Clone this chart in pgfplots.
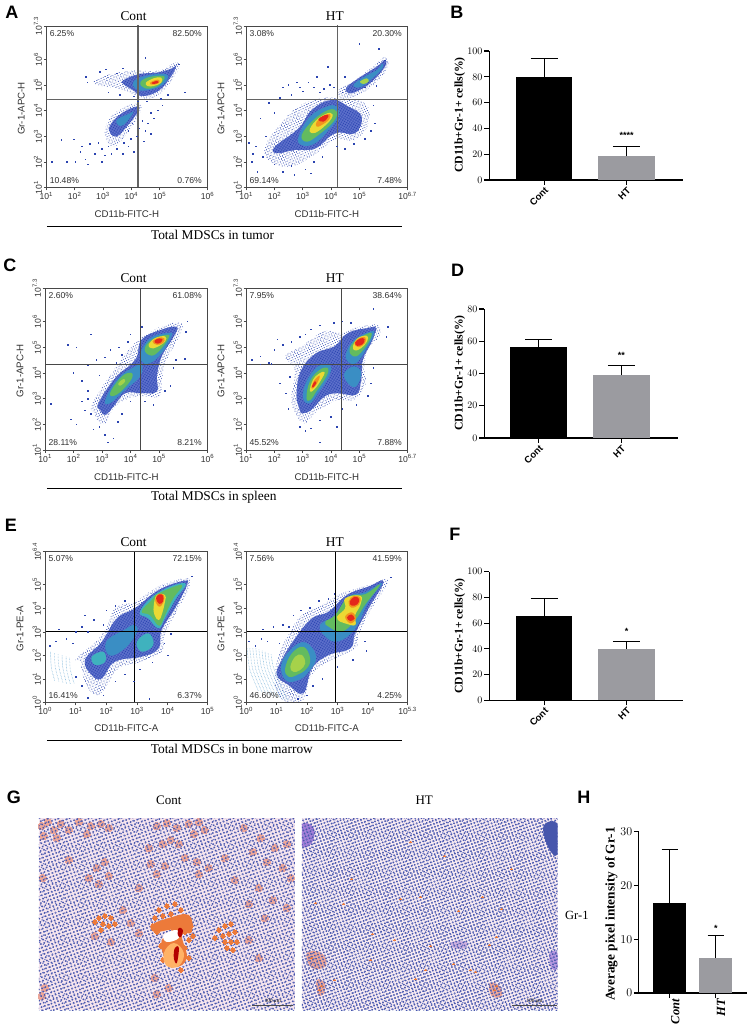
\documentclass[border=0pt]{standalone}
\usepackage{pgfplots}
\pgfplotsset{compat=1.18}
\usepackage{fontspec}
\setmainfont{Liberation Serif}
\newfontfamily\arial{Liberation Sans}
\usetikzlibrary{patterns.meta}
\definecolor{spk}{HTML}{2B44B0}
\definecolor{dk}{HTML}{6275CE}
\definecolor{md}{HTML}{3A8EC4}
\definecolor{cy}{HTML}{3FB2BE}
\definecolor{gr}{HTML}{63BB5F}
\definecolor{li}{HTML}{A6D24A}
\definecolor{ye}{HTML}{ECD933}
\definecolor{or}{HTML}{F2931E}
\definecolor{re}{HTML}{E4281B}
\definecolor{frm}{HTML}{484848}
\definecolor{txg}{HTML}{303030}
\definecolor{bargray}{HTML}{9B9BA0}
\definecolor{nuc}{HTML}{4756AC}
\definecolor{nucb}{HTML}{6C78C2}
\definecolor{pk}{HTML}{F0A898}
\definecolor{orr}{HTML}{EC7A3A}
\newcommand{\fs}[1]{\fontsize{#1}{#1}\selectfont}
\def\dkname{dk}
\newcommand{\blob}[2]{\def\tmpn{#1}\ifx\tmpn\dkname\addplot[fill=dk,draw=none,smooth cycle,tension=0.7,forget plot] coordinates {#2};\addplot[pattern={Dots[radius=0.55pt,distance=1.5pt,angle=20]},pattern color=spk,draw=none,smooth cycle,tension=0.7,forget plot] coordinates {#2};\else\addplot[fill=#1,draw=none,smooth cycle,tension=0.7,forget plot] coordinates {#2};\fi}
\newcommand{\halo}[1]{\addplot[pattern={Dots[radius=0.45pt,distance=2.4pt,angle=25]},pattern color=spk,draw=none,smooth cycle,tension=0.7,forget plot] coordinates {#1};\addplot[pattern={Dots[radius=0.4pt,distance=2.9pt,angle=70]},pattern color=spk,draw=none,smooth cycle,tension=0.7,forget plot] coordinates {#1};}
\newcommand{\spk}[1]{\addplot[only marks,color=spk,fill=spk,mark=square*,mark size=0.3pt,line width=0pt,forget plot] coordinates {#1};}
\newcommand{\arc}[1]{\addplot[draw=md!70!white,line width=0.5pt,dash pattern=on 0.6pt off 0.9pt,smooth,forget plot] coordinates {#1};}
\newcommand{\pct}[4]{%
\node[anchor=west,font=\arial\fs{8.6},text=txg,inner sep=0] at (rel axis cs:0.02,0.955){#1};
\node[anchor=east,font=\arial\fs{8.6},text=txg,inner sep=0] at (rel axis cs:0.965,0.955){#2};
\node[anchor=west,font=\arial\fs{8.6},text=txg,inner sep=0] at (rel axis cs:0.02,0.047){#3};
\node[anchor=east,font=\arial\fs{8.6},text=txg,inner sep=0] at (rel axis cs:0.965,0.047){#4};}
\newcommand{\s}[1]{\textsuperscript{#1}}
\pgfplotsset{
 flow/.style={scale only axis,axis on top,clip=true,
  axis line style={draw=frm,line width=0.9pt},
  tick style={draw=frm,line width=0.7pt},tick align=outside,major tick length=2.6pt,
  xtick pos=bottom,ytick pos=left,
  tick label style={font=\arial\fs{8.6},text=txg},
  yticklabel style={rotate=90,anchor=south,inner sep=1.5pt},
  xticklabel style={inner sep=1.5pt},
  xlabel style={at={(axis description cs:0.5,-0.165)},anchor=center,font=\arial\fs{9.7},text=txg},
  ylabel style={at={(axis description cs:-0.155,0.49)},anchor=center,font=\arial\fs{9.7},text=txg},
 },
 flowH/.style={flow,xmin=1,xmax=6.7,ymin=1,ymax=7.3,xtick={1,2,3,4,5,6.7},ytick={1,2,3,4,5,6,7.3},
  yticklabels={10\s{1},10\s{2},10\s{3},10\s{4},10\s{5},10\s{6},10\s{7.3}},
  xlabel={CD11b-FITC-H},ylabel={Gr-1-APC-H}},
 flowA/.style={flow,xmin=0,xmax=5.3,ymin=0,ymax=6.4,xtick={0,1,2,3,4,5.3},ytick={0,1,2,3,4,5,6.4},
  yticklabels={10\s{0},10\s{1},10\s{2},10\s{3},10\s{4},10\s{5},10\s{6.4}},
  xlabel={CD11b-FITC-A},ylabel={Gr-1-PE-A}},
 barp/.style={scale only axis,ymin=0,axis x line=bottom,axis y line=left,
  axis line style={-,line width=1.1pt,draw=black},
  tick style={draw=black,line width=1.1pt},tick align=outside,major tick length=5pt,
  xtick={0,1},xticklabels={Cont,HT},
  yticklabel style={font=\arial\bfseries\fs{10},inner sep=1.5pt},
  xticklabel style={font=\arial\bfseries\fs{9.5},rotate=45,anchor=north east,inner sep=1pt},
 },
 micro/.style={scale only axis,hide axis,xmin=0,xmax=256,ymin=0,ymax=192,y dir=reverse,clip=true,clip mode=individual},
}
\newcommand{\bars}[5]{%
\addplot[ybar,bar width=#1,bar shift=0pt,fill=black,draw=none,forget plot,
 error bars/.cd,y dir=plus,y explicit,error bar style={line width=1.1pt,black},error mark options={rotate=90,mark size=#2,line width=1.1pt,black}] coordinates {#3};
\addplot[ybar,bar width=#1,bar shift=0pt,fill=bargray,draw=none,forget plot,
 error bars/.cd,y dir=plus,y explicit,error bar style={line width=1.1pt,black},error mark options={rotate=90,mark size=#2,line width=1.1pt,black}] coordinates {#4};
\node[font=\arial\bfseries\fs{9}] at #5;}
\newcommand{\tx}[4]{\node[#3] at (#1pt,{1026pt-#2pt}){#4};}
\newcommand{\hl}[3]{\draw[black,line width=0.9pt] (#1pt,{1026pt-#3pt})--(#2pt,{1026pt-#3pt});}
\newcommand{\gcross}[5]{%
\addplot[draw=#1,line width=#2,forget plot] coordinates {(#3,-100)(#3,100)};
\addplot[draw=#1,line width=#2,forget plot] coordinates {(-100,#4)(100,#4)};}
\newcommand{\nuclei}[2]{%
\addplot[pattern={Dots[radius=1.05pt,distance=#1pt,angle=20]},pattern color=nuc,draw=none,forget plot] coordinates {(0,0)(256,0)(256,192)(0,192)} --cycle;
\addplot[pattern={Dots[radius=0.85pt,distance=#2pt,angle=62]},pattern color=nucb,draw=none,forget plot] coordinates {(0,0)(256,0)(256,192)(0,192)} --cycle;}
\begin{document}
\begin{tikzpicture}
\path (0pt,0pt) rectangle (747pt,1026pt);
%%%%%%%%%%%% A Cont
\begin{axis}[flowH,at={(44.5pt,838.3pt)},anchor=south west,width=161.2pt,height=161.7pt,
 xticklabels={10\s{1},10\s{2},10\s{3},10\s{4},10\s{5},10\s{6}}]
\halo{(2.73,5.19)(3.32,5.43)(4.14,5.56)(4.96,5.56)(5.55,5.87)(5.69,5.71)(5.44,5.19)(4.96,4.61)(4.38,4.48)(3.91,4.74)(3.32,4.91)(2.79,5.0)}
\halo{(3.14,3.51)(3.49,3.96)(4.2,4.29)(4.32,3.9)(3.67,2.86)(3.32,2.6)(3.08,2.99)}
\blob{dk}{(3.73,5.19)(4.26,5.42)(4.96,5.49)(5.44,5.65)(5.59,5.74)(5.39,5.3)(4.96,4.77)(4.38,4.57)(4.08,4.79)(3.73,5.03)}
\blob{md}{(4.08,5.13)(4.49,5.35)(5.2,5.43)(5.26,5.19)(4.96,4.91)(4.44,4.78)(4.14,4.87)}
\blob{gr}{(4.32,5.09)(4.61,5.3)(5.14,5.35)(5.11,5.13)(4.85,4.91)(4.49,4.87)}
\blob{ye}{(4.52,5.09)(4.79,5.26)(5.06,5.29)(5.06,5.09)(4.79,4.96)(4.58,4.96)}
\blob{or}{(4.67,5.09)(4.85,5.19)(4.99,5.19)(4.96,5.06)(4.73,5.01)}
\blob{re}{(4.73,5.09)(4.91,5.16)(4.96,5.09)(4.79,5.04)}
\blob{dk}{(3.26,3.44)(3.67,3.9)(4.2,4.16)(4.24,3.96)(3.79,3.31)(3.49,2.99)(3.26,3.12)}
\blob{md}{(3.49,3.64)(3.96,3.9)(4.08,3.96)(3.85,3.57)(3.61,3.4)}
\spk{(1.2,2.0)(1.53,2.86)(1.73,2.0)(1.97,2.88)(2.03,2.0)(2.2,2.4)(2.38,2.1)(2.47,1.9)(2.55,2.7)(2.73,2.3)(2.97,2.0)(2.26,2.6)(2.85,2.75)(2.96,2.5)(3.08,2.25)(3.2,2.6)(3.3,2.3)(3.5,2.5)(3.7,2.3)(3.9,2.6)(4.0,2.9)(4.1,2.4)(4.2,3.0)(4.3,3.3)(4.4,3.6)(4.5,3.2)(4.6,3.5)(4.7,3.9)(4.8,3.7)(4.95,4.0)(5.1,4.2)(4.45,2.8)(4.7,3.1)(5.9,4.7)(2.4,5.3)(2.45,5.1)(2.9,5.5)(3.1,5.6)(3.5,5.45)(3.7,5.65)(4.5,6.05)(5.7,5.8)(3.2,4.7)(3.6,4.6)(4.1,4.55)(3.9,3.2)(4.05,3.5)(3.75,2.75)(4.25,4.35)(4.55,4.35)(5.3,4.6)(5.05,4.45)}
\gcross{frm!85!white}{1.3pt}{4.24}{4.44}{}
\pct{6.25\%}{82.50\%}{10.48\%}{0.76\%}
\end{axis}
%%%%%%%%%%%% A HT
\begin{axis}[flowH,at={(244.3pt,838.3pt)},anchor=south west,width=161.4pt,height=161.7pt,
 xticklabels={10\s{1},10\s{2},10\s{3},10\s{4},10\s{5},10\s{6.7}}]
\halo{(1.67,2.6)(2.14,3.38)(2.85,4.16)(3.67,4.48)(4.2,4.48)(5.2,4.29)(5.32,3.51)(4.85,2.86)(4.14,2.86)(3.32,2.21)(2.49,1.82)(1.79,2.08)}
\halo{(4.26,4.81)(4.85,5.19)(5.55,5.78)(5.9,6.08)(6.02,5.71)(5.55,5.06)(4.96,4.61)(4.38,4.48)}
\blob{dk}{(2.02,2.6)(2.85,3.31)(3.32,4.03)(4.02,4.42)(4.61,4.16)(5.08,3.77)(4.85,3.12)(4.14,3.12)(3.44,2.53)(2.73,2.47)(2.08,2.34)}
\blob{md}{(2.85,2.99)(3.26,3.77)(3.85,4.16)(4.2,4.16)(4.26,3.77)(4.02,3.38)(3.44,2.73)(2.96,2.66)}
\blob{gr}{(2.96,3.05)(3.38,3.64)(3.91,4.03)(4.2,3.96)(4.08,3.57)(3.55,3.05)(3.14,2.79)}
\blob{ye}{(3.26,3.31)(3.55,3.7)(3.96,3.92)(4.02,3.7)(3.61,3.25)(3.32,3.12)}
\blob{or}{(3.49,3.57)(3.73,3.79)(3.96,3.87)(3.93,3.66)(3.67,3.44)(3.49,3.38)}
\blob{re}{(3.55,3.66)(3.79,3.83)(3.91,3.79)(3.73,3.57)}
\blob{dk}{(4.55,4.91)(5.02,5.3)(5.61,5.71)(5.9,5.97)(5.9,5.71)(5.44,5.13)(4.96,4.78)(4.61,4.68)}
\blob{md}{(4.79,5.0)(5.14,5.3)(5.61,5.58)(5.81,5.84)(5.79,5.62)(5.38,5.19)(5.02,4.91)}
\blob{li}{(5.02,5.13)(5.26,5.26)(5.32,5.13)(5.14,5.04)}
\spk{(1.1,2.75)(1.2,2.0)(1.35,2.6)(1.5,3.7)(1.7,3.0)(1.8,4.3)(2.0,3.9)(2.2,4.5)(2.3,4.9)(2.5,5.0)(2.6,4.6)(2.8,5.1)(2.9,4.9)(3.0,4.75)(3.2,5.1)(3.4,4.9)(3.5,5.3)(3.6,4.7)(3.75,4.85)(3.95,5.0)(4.1,4.9)(3.9,5.7)(5.0,6.6)(5.7,6.4)(5.9,5.95)(4.4,4.7)(4.5,5.3)(5.2,4.9)(5.6,4.95)(5.5,4.2)(5.55,3.5)(5.4,3.2)(5.2,2.9)(4.8,2.7)(4.5,2.5)(4.2,2.6)(3.7,2.2)(3.4,2.0)(3.1,1.7)(2.7,1.5)(2.3,1.6)(2.0,1.9)(1.6,2.2)(2.6,1.85)(3.3,1.55)(1.4,1.6)(1.25,2.3)}
\gcross{frm!85!white}{1.3pt}{4.22}{4.44}{}
\pct{3.08\%}{20.30\%}{69.14\%}{7.48\%}
\end{axis}
%%%%%%%%%%%% C Cont
\begin{axis}[flowH,at={(43.3pt,575.7pt)},anchor=south west,width=162.4pt,height=162pt,
 xticklabels={10\s{1},10\s{2},10\s{3},10\s{4},10\s{5},10\s{6}}]
\halo{(2.75,2.44)(2.64,2.77)(3.34,4.0)(4.16,5.17)(5.09,5.82)(5.8,5.92)(5.68,5.36)(5.21,4.39)(5.09,3.61)(4.98,3.09)(4.16,3.09)(3.46,2.7)(3.11,2.05)(2.81,2.18)}
\blob{dk}{(2.93,2.57)(2.87,2.83)(3.46,3.81)(4.16,4.52)(4.39,5.3)(5.09,5.69)(5.62,5.79)(5.5,5.4)(5.09,4.65)(4.92,3.87)(4.92,3.29)(4.39,3.22)(3.81,3.22)(3.4,2.7)(3.11,2.38)}
\blob{md}{(3.11,2.96)(3.57,3.81)(4.16,4.26)(4.39,4.32)(4.33,3.87)(3.81,3.35)(3.28,2.83)}
\blob{gr}{(3.28,3.22)(3.69,3.87)(4.04,4.0)(3.98,3.68)(3.51,3.16)}
\blob{li}{(3.57,3.61)(3.75,3.77)(3.81,3.68)(3.63,3.51)}
\blob{md}{(4.39,4.91)(4.74,5.4)(5.33,5.56)(5.44,5.45)(5.09,4.78)(4.68,4.39)(4.39,4.45)}
\blob{gr}{(4.49,4.91)(4.74,5.3)(5.27,5.49)(5.33,5.36)(5.04,4.91)(4.74,4.68)}
\blob{ye}{(4.63,5.1)(4.86,5.36)(5.21,5.43)(5.21,5.23)(4.92,5.01)(4.72,4.97)}
\blob{or}{(4.77,5.23)(4.98,5.38)(5.18,5.35)(5.14,5.17)(4.92,5.1)}
\blob{re}{(4.84,5.26)(5.0,5.35)(5.12,5.3)(5.03,5.17)(4.89,5.16)}
\spk{(1.2,2.8)(1.9,2.2)(2.1,2.0)(2.3,2.9)(2.4,2.55)(2.5,3.0)(2.6,2.4)(2.9,1.9)(3.1,1.6)(3.2,1.3)(3.4,1.45)(2.7,1.8)(3.55,2.1)(3.7,2.4)(2.0,4.0)(2.3,3.7)(2.5,4.3)(2.8,4.5)(2.9,3.9)(3.1,4.6)(3.3,4.9)(3.5,4.4)(3.6,5.0)(3.7,4.7)(3.9,5.2)(1.8,5.1)(2.1,5.0)(2.6,5.5)(4.0,5.5)(4.4,5.8)(5.2,3.3)(5.4,3.5)(5.5,4.2)(5.9,4.55)(5.6,4.5)(6.0,6.0)(5.95,5.6)(4.5,2.9)(4.8,2.75)(4.0,2.9)(2.5,3.3)}
\gcross{frm}{0.9pt}{4.36}{4.34}{}
\pct{2.60\%}{61.08\%}{28.11\%}{8.21\%}
\end{axis}
%%%%%%%%%%%% C HT
\begin{axis}[flowH,at={(244.3pt,575.7pt)},anchor=south west,width=161.4pt,height=162pt,
 xticklabels={10\s{1},10\s{2},10\s{3},10\s{4},10\s{5},10\s{6.7}}]
\halo{(2.72,2.44)(2.6,3.09)(2.72,4.13)(2.37,4.65)(2.95,5.04)(3.77,5.62)(4.36,5.56)(4.82,5.75)(5.64,5.88)(5.7,5.43)(5.29,4.91)(5.18,4.13)(5.23,3.61)(4.82,2.96)(4.24,2.96)(3.77,2.7)(3.42,2.44)(3.07,2.05)}
\blob{dk}{(2.89,2.57)(2.78,3.22)(2.95,4.13)(3.48,4.78)(4.12,5.04)(4.59,5.56)(5.29,5.75)(5.58,5.75)(5.41,5.17)(5.12,4.52)(5.06,3.74)(4.88,3.16)(4.24,3.22)(3.77,3.09)(3.3,2.57)(3.01,2.44)}
\blob{md}{(3.01,3.03)(3.13,3.68)(3.54,4.26)(3.95,4.32)(3.95,3.94)(3.54,3.22)(3.25,2.83)}
\blob{md}{(4.47,4.0)(4.82,4.26)(5.06,4.0)(4.88,3.48)(4.59,3.61)}
\blob{gr}{(3.13,3.03)(3.25,3.68)(3.6,4.13)(3.89,4.19)(3.83,3.87)(3.48,3.29)(3.28,2.96)}
\blob{ye}{(3.25,3.29)(3.36,3.74)(3.6,4.0)(3.77,4.03)(3.65,3.74)(3.42,3.38)}
\blob{or}{(3.3,3.42)(3.42,3.74)(3.6,3.9)(3.54,3.68)(3.4,3.45)}
\blob{re}{(3.33,3.5)(3.42,3.68)(3.48,3.61)(3.37,3.45)}
\blob{md}{(4.53,4.78)(4.82,5.3)(5.41,5.62)(5.5,5.49)(5.23,4.91)(4.88,4.39)(4.59,4.45)}
\blob{gr}{(4.65,4.84)(4.82,5.23)(5.35,5.56)(5.41,5.4)(5.18,4.97)(4.88,4.65)}
\blob{ye}{(4.77,5.03)(4.94,5.36)(5.27,5.45)(5.27,5.23)(5.06,4.97)(4.85,4.88)}
\blob{or}{(4.82,5.17)(5.0,5.36)(5.2,5.4)(5.2,5.17)(4.96,5.01)}
\blob{re}{(4.85,5.19)(5.03,5.35)(5.18,5.32)(5.12,5.13)(4.92,5.06)}
\spk{(1.2,4.5)(1.5,4.65)(1.8,4.4)(2.0,4.9)(2.1,5.3)(2.3,5.1)(2.6,5.2)(2.9,5.4)(3.1,5.5)(3.3,5.7)(3.6,5.85)(4.1,5.95)(4.4,6.0)(4.7,5.95)(5.5,6.5)(5.95,5.4)(6.0,5.8)(5.5,4.2)(5.4,3.6)(5.3,3.1)(4.9,2.75)(4.4,2.6)(4.0,2.3)(3.6,2.15)(3.3,1.85)(3.1,1.75)(2.9,1.9)(2.5,2.6)(2.4,3.2)(2.2,3.6)(2.55,3.85)(3.6,1.3)(4.2,1.9)(1.9,4.35)(1.5,4.34)}
\gcross{frm}{0.9pt}{4.35}{4.34}{}
\pct{7.95\%}{38.64\%}{45.52\%}{7.88\%}
\end{axis}
%%%%%%%%%%%% E Cont
\begin{axis}[flowA,at={(43.3pt,323.3pt)},anchor=south west,width=162.4pt,height=151pt,
 xticklabels={10\s{0},10\s{1},10\s{2},10\s{3},10\s{4},10\s{5}}]
\halo{(1.14,1.74)(1.03,1.88)(1.85,2.87)(2.28,4.0)(2.93,4.28)(3.7,4.92)(4.57,5.27)(4.73,4.99)(4.35,4.0)(3.91,2.87)(3.8,2.16)(3.15,1.74)(2.39,1.45)(1.96,0.61)(1.63,0.32)(1.3,0.89)}
\blob{dk}{(1.3,1.81)(1.85,2.58)(2.34,3.57)(2.93,4.0)(3.7,4.77)(4.52,5.16)(4.63,4.99)(4.24,4.0)(3.8,3.08)(3.7,2.3)(3.15,1.95)(2.28,1.74)(1.85,1.03)(1.52,1.17)}
\blob{cy}{(3.09,3.86)(3.7,4.68)(4.57,5.06)(4.24,4.35)(3.91,3.57)(3.7,3.15)(3.37,3.57)}
\blob{gr}{(3.15,3.86)(3.48,4.35)(3.7,4.63)(4.46,4.99)(4.18,4.42)(3.91,3.71)(3.72,3.26)(3.42,3.71)}
\blob{ye}{(3.54,4.07)(3.64,4.56)(3.91,4.56)(3.91,4.28)(3.8,3.71)(3.7,3.5)(3.57,3.71)}
\blob{or}{(3.59,4.35)(3.7,4.6)(3.87,4.56)(3.87,4.28)(3.72,4.07)}
\blob{re}{(3.62,4.42)(3.72,4.59)(3.85,4.53)(3.84,4.28)(3.72,4.19)}
\blob{md}{(2.0,2.6)(2.6,3.1)(2.9,3.3)(3.0,3.0)(2.6,2.3)(2.1,2.0)}
\blob{cy}{(2.99,2.58)(3.37,2.94)(3.53,2.44)(3.15,2.16)}
\blob{cy}{(1.52,1.95)(1.9,2.16)(1.96,1.74)(1.63,1.6)}
\arc{(0.18,2.15)(0.2,1.5)(0.32,0.9)}
\arc{(0.3,2.1)(0.33,1.5)(0.45,0.9)}
\arc{(0.42,2.05)(0.45,1.5)(0.58,0.85)}
\arc{(0.55,2.0)(0.58,1.45)(0.7,0.8)}
\arc{(0.68,1.95)(0.7,1.4)(0.82,0.8)}
\arc{(0.8,1.9)(0.82,1.4)(0.95,0.8)}
\spk{(0.15,2.4)(0.35,2.6)(0.45,3.1)(0.7,2.7)(0.9,2.5)(1.0,3.0)(1.2,3.2)(1.4,3.0)(1.3,3.7)(1.6,3.5)(1.9,3.3)(2.0,3.9)(2.3,4.1)(2.6,4.3)(4.8,5.35)(3.9,2.5)(4.1,2.9)(4.0,2.0)(3.5,1.7)(3.1,1.4)(2.6,1.2)(2.3,0.9)(1.9,0.3)(1.4,0.2)(3.4,0.15)(2.9,0.9)(1.2,0.7)(1.0,1.1)}
\gcross{black}{0.9pt}{2.93}{3.02}{}
\pct{5.07\%}{72.15\%}{16.41\%}{6.37\%}
\end{axis}
%%%%%%%%%%%% E HT
\begin{axis}[flowA,at={(244.3pt,323.3pt)},anchor=south west,width=161.4pt,height=151pt,
 xticklabels={10\s{0},10\s{1},10\s{2},10\s{3},10\s{4},10\s{5.3}}]
\halo{(1.06,2.02)(1.39,2.87)(1.83,3.71)(2.49,4.14)(3.14,4.63)(4.02,4.99)(4.57,5.24)(4.62,4.99)(4.13,4.0)(3.69,2.87)(3.58,2.3)(2.71,1.74)(2.16,1.17)(1.83,0.04)(1.28,0.04)(0.95,0.75)}
\blob{dk}{(1.17,1.81)(1.61,2.73)(2.16,3.57)(2.71,3.86)(3.31,4.56)(4.02,4.92)(4.51,5.13)(4.02,4.0)(3.58,2.94)(3.42,2.3)(2.71,2.02)(2.16,1.45)(1.88,0.4)(1.39,0.75)(1.01,1.17)}
\blob{md}{(2.43,3.3)(2.92,3.71)(3.36,4.49)(3.91,4.68)(4.46,5.06)(4.02,4.28)(3.58,3.15)(3.03,2.6)(2.6,2.8)}
\blob{gr}{(2.6,3.43)(2.92,3.71)(3.36,4.49)(3.91,4.6)(4.4,5.01)(3.91,4.16)(3.58,3.5)(3.14,3.01)(2.71,3.22)}
\blob{ye}{(2.98,3.64)(3.25,4.0)(3.25,4.42)(3.75,4.53)(3.75,4.14)(3.58,3.71)(3.58,3.29)(3.25,3.36)(3.09,3.43)}
\blob{or}{(3.36,4.28)(3.53,4.53)(3.75,4.45)(3.69,4.14)(3.45,4.03)}
\blob{re}{(3.4,4.28)(3.56,4.49)(3.71,4.39)(3.65,4.17)(3.47,4.11)}
\blob{or}{(3.25,3.64)(3.47,3.83)(3.6,3.57)(3.42,3.36)}
\blob{re}{(3.31,3.61)(3.45,3.74)(3.56,3.57)(3.42,3.46)}
\blob{md}{(1.15,1.6)(1.5,2.3)(1.95,2.55)(2.3,1.95)(2.05,1.3)(1.7,0.95)(1.3,0.95)}
\blob{gr}{(1.28,1.45)(1.5,2.09)(1.88,2.37)(2.1,1.88)(1.99,1.45)(1.66,1.17)(1.39,1.1)}
\blob{li}{(1.45,1.52)(1.61,1.95)(1.83,2.02)(1.94,1.67)(1.77,1.38)(1.55,1.31)}
\arc{(0.03,2.3)(0.12,1.4)(0.4,0.5)}
\arc{(0.12,2.3)(0.22,1.4)(0.52,0.45)}
\arc{(0.22,2.3)(0.32,1.4)(0.64,0.4)}
\arc{(0.32,2.3)(0.42,1.4)(0.76,0.35)}
\arc{(0.42,2.25)(0.52,1.4)(0.88,0.3)}
\arc{(0.52,2.2)(0.62,1.4)(1.0,0.25)}
\arc{(0.62,2.15)(0.72,1.4)(1.12,0.2)}
\arc{(0.72,2.1)(0.82,1.4)(1.24,0.15)}
\arc{(0.82,2.05)(0.92,1.4)(1.36,0.1)}
\spk{(0.1,2.6)(0.3,2.4)(0.5,2.7)(0.55,3.1)(0.7,2.6)(0.9,3.2)(1.1,2.5)(1.2,3.3)(1.4,3.2)(1.55,3.7)(1.8,3.9)(2.1,4.0)(2.4,4.3)(2.7,4.4)(2.9,4.6)(4.75,5.3)(3.9,2.6)(3.95,2.2)(3.5,1.8)(3.0,1.5)(2.5,1.0)(2.2,0.7)(2.0,0.3)(1.7,0.15)}
\gcross{black}{0.9pt}{2.92}{3.02}{}
\pct{7.56\%}{41.59\%}{46.60\%}{4.25\%}
\end{axis}
%%%%%%%%%%%% B
\begin{axis}[barp,at={(487.3pt,846pt)},anchor=south west,width=193.7pt,height=129pt,ymax=100,ytick={0,20,40,60,80,100},xmin=-0.667,xmax=1.683]
\bars{56.7pt}{13.6pt}{(0,80) +- (0,14)}{(1,18.5) +- (0,7.5)}{(axis cs:1,34.5){****}}
\end{axis}
%%%%%%%%%%%% D
\begin{axis}[barp,at={(482.3pt,588pt)},anchor=south west,width=193.7pt,height=129pt,ymax=80,ytick={0,20,40,60,80},xmin=-0.662,xmax=1.682]
\bars{56.7pt}{13.6pt}{(0,56.5) +- (0,4.8)}{(1,39) +- (0,6)}{(axis cs:1,51.5){**}}
\end{axis}
%%%%%%%%%%%% F
\begin{axis}[barp,at={(487.3pt,325.7pt)},anchor=south west,width=193.7pt,height=128.6pt,ymax=100,ytick={0,20,40,60,80,100},xmin=-0.667,xmax=1.683]
\bars{56.7pt}{13.6pt}{(0,65.3) +- (0,13.7)}{(1,40) +- (0,5.5)}{(axis cs:1,53.5){*}}
\end{axis}
%%%%%%%%%%%% H
\begin{axis}[barp,at={(637pt,33pt)},anchor=south west,width=108pt,height=161.5pt,ymax=30,ytick={0,10,20,30},xmin=-0.674,xmax=1.674,
 yticklabel style={font=\arial\bfseries\fs{12},inner sep=1.5pt},
 xticklabel style={font=\bfseries\itshape\fs{12.5},rotate=45,anchor=north east,inner sep=1pt}]
\bars{33pt}{8.3pt}{(0,16.7) +- (0,10)}{(1,6.5) +- (0,4.1)}{(axis cs:1,12){*}}
\end{axis}
%%%%%%%%%%%% G left
\begin{axis}[micro,at={(37pt,16pt)},anchor=south west,width=256pt,height=192pt]
\addplot[fill=blue!35!red!10!white,draw=none,forget plot] coordinates {(0,0)(256,0)(256,192)(0,192)} --cycle;
\addplot[only marks,color=pk,fill=pk,mark=*,mark size=3.8pt,line width=0pt,forget plot] coordinates {(3,8)(9,4)(15,12)(22,6)(5,18)(18,20)(30,12)(40,4)(52,8)(62,6)(70,10)(48,16)(118,8)(128,5)(138,10)(150,6)(160,4)(166,12)(155,16)(132,22)(124,26)(140,26)(110,30)(112,46)(118,56)(126,48)(146,40)(158,44)(170,50)(160,56)(205,10)(222,20)(236,30)(248,26)(228,44)(244,50)(214,34)(252,60)(58,50)(66,44)(70,58)(50,60)(60,66)(186,40)(196,62)(6,170)(4,60)(30,42)(100,70)(220,70)(234,82)(210,86)(248,90)(226,100)(92,105)(100,115)(84,92)(56,118)(72,124)(210,122)(220,140)(3,178)(116,160)(130,170)(118,176)};
\nuclei{3.5}{4.2}
\addplot[only marks,color=orr,fill=orr,mark=*,mark size=2.2pt,line width=0pt,forget plot] coordinates {(60,100)(66,98)(72,100)(64,106)(70,108)(62,112)(76,106)(56,104)(120,92)(128,88)(136,86)(142,92)(116,100)(124,98)(132,96)(148,100)(152,108)(114,108)(118,114)(146,114)(150,122)(154,118)(180,112)(186,108)(192,106)(184,118)(190,116)(196,114)(186,124)(192,124)(198,124)(188,130)(194,132)(176,120)(122,128)(128,132)(146,130)(150,140)(124,142)(130,146)(142,152)};
\blob{orr}{(113,107)(130,100)(150,97)(153,114)(143,117)(148,140)(136,149)(125,137)(123,122)(133,112)(116,114)}
\blob{white}{(125,117)(138,112)(140,120)(128,124)}
\blob{orange!60!white}{(125,135)(135,125)(145,135)(140,148)(128,148)}
\blob{red!70!black}{(136,130)(140,130)(138,145)(135,140)}
\blob{red!70!black}{(140,110)(144,112)(142,119)(139,117)}
\addplot[draw=black!70,line width=0.7pt,forget plot] coordinates {(213,187)(254,187)};
\node[font=\fs{5.2},text=black] at (axis cs:234,183) {100 μm};
\end{axis}
%%%%%%%%%%%% G right
\begin{axis}[micro,at={(300pt,16pt)},anchor=south west,width=255.7pt,height=192pt]
\addplot[fill=blue!35!red!8!white,draw=none,forget plot] coordinates {(0,0)(256,0)(256,192)(0,192)} --cycle;
\blob{pk}{(5,135)(20,135)(24,148)(10,150)}
\blob{pk}{(15,162)(23,165)(22,176)(16,176)}
\blob{pk}{(188,165)(198,168)(200,178)(190,178)}
\blob{red!40!blue!30!white}{(150,124)(165,124)(163,130)(152,130)}
\blob{red!30!blue!40!white}{(248,135)(256,135)(256,150)(250,150)}
\blob{red!30!blue!50!white}{(0,6)(12,10)(10,25)(0,28)}
\nuclei{3.2}{3.9}
\blob{nuc}{(242,8)(256,6)(256,36)(247,30)}
\addplot[only marks,color=orr,fill=orr,mark=*,mark size=0.9pt,line width=0pt,forget plot] coordinates {(14,85)(42,86)(50,61)(99,81)(119,79)(157,93)(210,51)(109,24)(143,38)(71,116)(93,122)(129,128)(188,127)(152,146)(124,152)(169,152)(33,162)(114,161)(69,142)(174,154)(181,79)(195,119)(200,91)(20,168)(193,172)(10,140)(18,172)(195,168)};
\addplot[draw=black!70,line width=0.7pt,forget plot] coordinates {(210,187)(255,187)};
\node[font=\fs{5.2},text=black] at (axis cs:233,183) {100 μm};
\end{axis}
%%%%%%%%%%%% texts
\tx{131.7}{16}{font=\fs{13.4}}{Cont}
\tx{333}{16}{font=\fs{13.4}}{HT}
\tx{131.7}{278.3}{font=\fs{13.4}}{Cont}
\tx{333}{278.3}{font=\fs{13.4}}{HT}
\tx{131.7}{541.7}{font=\fs{13.4}}{Cont}
\tx{333}{541.7}{font=\fs{13.4}}{HT}
\hl{45}{400}{226}\tx{210.7}{235.3}{font=\fs{13.4}}{Total MDSCs in tumor}
\hl{45}{400}{488}\tx{212}{497.5}{font=\fs{13.4}}{Total MDSCs in spleen}
\hl{45}{400}{740.3}\tx{230}{749.3}{font=\fs{13.4}}{Total MDSCs in bone marrow}
\tx{458}{115}{rotate=90,font=\bfseries\fs{11.7}}{CD11b+Gr-1+ cells(\%)}
\tx{458}{373}{rotate=90,font=\bfseries\fs{11.7}}{CD11b+Gr-1+ cells(\%)}
\tx{458}{636}{rotate=90,font=\bfseries\fs{11.7}}{CD11b+Gr-1+ cells(\%)}
\tx{609.5}{914}{rotate=90,font=\bfseries\fs{13.3}}{Average pixel intensity of Gr-1}
\tx{167}{800.7}{font=\fs{13}}{Cont}
\tx{422.4}{800.7}{font=\fs{13}}{HT}
\tx{575}{915.7}{font=\fs{12.5}}{Gr-1}
\tx{10}{12}{font=\arial\bfseries\fs{18}}{A}
\tx{455}{12}{font=\arial\bfseries\fs{18}}{B}
\tx{8}{265}{font=\arial\bfseries\fs{18}}{C}
\tx{455.7}{270}{font=\arial\bfseries\fs{18}}{D}
\tx{9}{525}{font=\arial\bfseries\fs{18}}{E}
\tx{453}{534}{font=\arial\bfseries\fs{18}}{F}
\tx{12}{797}{font=\arial\bfseries\fs{18}}{G}
\tx{582}{797}{font=\arial\bfseries\fs{18}}{H}
\end{tikzpicture}
\end{document}
